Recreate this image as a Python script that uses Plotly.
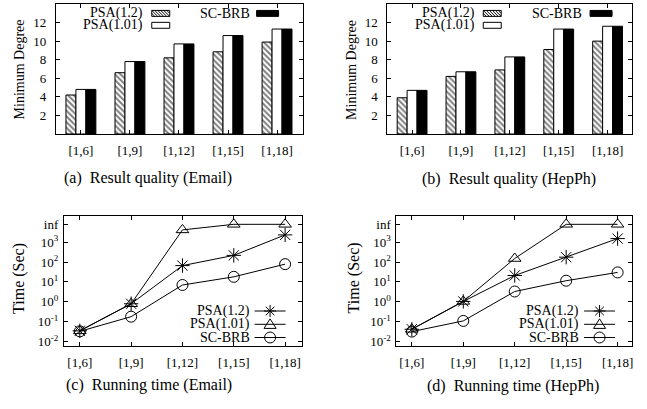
import plotly.graph_objects as go

W, H = 647, 409
FONT = "Liberation Serif, Times New Roman, Times, serif"

# ---------------- data ----------------
categories = ["[1,6]", "[1,9]", "[1,12]", "[1,15]", "[1,18]"]

email_deg_psa12 = [4.2, 6.6, 8.2, 8.85, 9.9]
email_deg_psa101 = [4.8, 7.8, 9.7, 10.6, 11.3]
email_deg_scbrb = [4.8, 7.8, 9.7, 10.6, 11.3]

hep_deg_psa12 = [3.9, 6.2, 6.9, 9.1, 10.0]
hep_deg_psa101 = [4.7, 6.7, 8.3, 11.3, 11.6]
hep_deg_scbrb = [4.7, 6.7, 8.3, 11.3, 11.6]

INF = 7800  # value used to draw "inf"
email_time_psa12 = [0.035, 0.8, 66, 215, 2300]
email_time_psa101 = [0.035, 0.8, 4100, INF, INF]
email_time_scbrb = [0.033, 0.18, 7, 18, 78]

hep_time_psa12 = [0.042, 1.05, 21, 175, 1500]
hep_time_psa101 = [0.042, 1.05, 150, INF, INF]
hep_time_scbrb = [0.032, 0.11, 3.3, 11.5, 30]

deg_ticks = [2, 4, 6, 8, 10, 12]
time_tickvals = [0.01, 0.1, 1, 10, 100, 1000, INF]
time_ticktext = ["10<sup>-2</sup>", "10<sup>-1</sup>", "10<sup>0</sup>", "10<sup>1</sup>",
                 "10<sup>2</sup>", "10<sup>3</sup>", "inf"]

series_names = ["PSA(1.2)", "PSA(1.01)", "SC-BRB"]
captions = ["(a)&nbsp; Result quality (Email)", "(b)&nbsp; Result quality (HepPh)",
            "(c)&nbsp; Running time (Email)", "(d)&nbsp; Running time (HepPh)"]


def px(x):
    return x / W


def py(y):
    return 1 - y / H


fig = go.Figure()

HATCH = dict(shape="\\", fgcolor="black", bgcolor="white", size=4, solidity=0.5)


def bar_styles():
    return [
        dict(color="white", line=dict(color="black", width=1), pattern=HATCH),
        dict(color="white", line=dict(color="black", width=1)),
        dict(color="black", line=dict(color="black", width=1)),
    ]


for (xa, ya, vals) in [("x", "y", [email_deg_psa12, email_deg_psa101, email_deg_scbrb]),
                       ("x2", "y2", [hep_deg_psa12, hep_deg_psa101, hep_deg_scbrb])]:
    for name, v, st in zip(series_names, vals, bar_styles()):
        fig.add_trace(go.Bar(x=categories, y=v, name=name, marker=st, xaxis=xa, yaxis=ya,
                             showlegend=False))

line_markers = [
    dict(symbol="asterisk-open", size=12, color="black", line=dict(color="black", width=1)),
    dict(symbol="triangle-up-open", size=11, color="black", line=dict(color="black", width=1)),
    dict(symbol="circle-open", size=11, color="black", line=dict(color="black", width=1)),
]
for (xa, ya, vals) in [("x3", "y3", [email_time_psa12, email_time_psa101, email_time_scbrb]),
                       ("x4", "y4", [hep_time_psa12, hep_time_psa101, hep_time_scbrb])]:
    for name, v, mk in zip(series_names, vals, line_markers):
        fig.add_trace(go.Scatter(x=categories, y=v, name=name, mode="lines+markers",
                                 line=dict(color="black", width=1), marker=mk,
                                 xaxis=xa, yaxis=ya, showlegend=False))

tickfont = dict(family=FONT, size=13, color="black")
common = dict(showline=True, linecolor="black", linewidth=1, mirror="ticks", ticks="inside",
              ticklen=4, tickcolor="black", showgrid=False, zeroline=False, tickfont=tickfont)

# panel frames in pixels: (left, right, top, bottom)
frames = {
    1: (56, 303, 4, 135),
    2: (388, 633, 4, 135),
    3: (64, 302, 218, 349),
    4: (397, 633, 218, 349),
}
xranges = {1: [-0.51, 4.52], 2: [-0.505, 4.5], 3: [-0.31, 4.32], 4: [-0.3, 4.28]}

layout = dict(width=W, height=H, margin=dict(l=0, r=0, t=0, b=0), plot_bgcolor="white",
              paper_bgcolor="white", barmode="group", bargap=0.39, bargroupgap=0,
              showlegend=False)

for i in range(1, 5):
    l, r, t, b = frames[i]
    xk = "xaxis" if i == 1 else f"xaxis{i}"
    yk = "yaxis" if i == 1 else f"yaxis{i}"
    xs = "y" if i == 1 else f"y{i}"
    ys = "x" if i == 1 else f"x{i}"
    layout[xk] = dict(common, domain=[px(l), px(r)], anchor=xs, range=xranges[i],
                      type="category", ticklabelstandoff=4)
    if i <= 2:
        layout[yk] = dict(common, domain=[py(b), py(t)], anchor=ys, range=[0, 14],
                          tickvals=deg_ticks, ticklabelstandoff=6)
    else:
        layout[yk] = dict(common, domain=[py(b), py(t)], anchor=ys, type="log",
                          range=[-2.24, 4.29], tickvals=time_tickvals, ticktext=time_ticktext,
                          ticklabelstandoff=2)

fig.update_layout(**layout)

shapes = []
annotations = []


def text(x, y, s, size=14, xanchor="center", angle=0):
    annotations.append(dict(x=px(x), y=py(y), xref="paper", yref="paper", text=s,
                            showarrow=False, xanchor=xanchor, yanchor="middle",
                            textangle=angle, font=dict(family=FONT, size=size, color="black")))


def rect(x0, y0, x1, y1, fill):
    shapes.append(dict(type="rect", xref="paper", yref="paper", x0=px(x0), x1=px(x1),
                       y0=py(y1), y1=py(y0), line=dict(color="black", width=1),
                       fillcolor=fill))


def hatch_rect(x0, y0, x1, y1, step=3.0):
    rect(x0, y0, x1, y1, "white")
    parts = []
    c = (y0 - x1)
    while c <= (y1 - x0):
        xa = max(x0, y0 - c)
        xb = min(x1, y1 - c)
        if xb > xa:
            parts.append(f"M{px(xa)},{py(xa + c)} L{px(xb)},{py(xb + c)}")
        c += step
    shapes.append(dict(type="path", xref="paper", yref="paper", path=" ".join(parts),
                       line=dict(color="black", width=1)))


def hline(x0, x1, y):
    shapes.append(dict(type="line", xref="paper", yref="paper", x0=px(x0), x1=px(x1),
                       y0=py(y), y1=py(y), line=dict(color="black", width=1)))


def asterisk(cx, cy, r=6):
    d = r * 0.72
    p = (f"M{px(cx)},{py(cy - r)} L{px(cx)},{py(cy + r)} "
         f"M{px(cx - r)},{py(cy)} L{px(cx + r)},{py(cy)} "
         f"M{px(cx - d)},{py(cy - d)} L{px(cx + d)},{py(cy + d)} "
         f"M{px(cx - d)},{py(cy + d)} L{px(cx + d)},{py(cy - d)}")
    shapes.append(dict(type="path", xref="paper", yref="paper", path=p,
                       line=dict(color="black", width=1)))


def triangle(cx, cy, r=5.5):
    p = (f"M{px(cx)},{py(cy - r)} L{px(cx + r * 1.1)},{py(cy + r * 0.75)} "
         f"L{px(cx - r * 1.1)},{py(cy + r * 0.75)} Z")
    shapes.append(dict(type="path", xref="paper", yref="paper", path=p,
                       line=dict(color="black", width=1), fillcolor="rgba(0,0,0,0)"))


def circle(cx, cy, r=5.5):
    shapes.append(dict(type="circle", xref="paper", yref="paper", x0=px(cx - r),
                       x1=px(cx + r), y0=py(cy + r), y1=py(cy - r),
                       line=dict(color="black", width=1), fillcolor="rgba(0,0,0,0)"))


# bar-chart keys
for (t1, s1, t2, s2) in [(145, 152, 252, 257), (478, 484, 585, 591)]:
    text(t1, 13.3, series_names[0], xanchor="right")
    hatch_rect(s1, 10.5, s1 + 18, 16.5)
    text(t1, 25.5, series_names[1], xanchor="right")
    rect(s1, 22.5, s1 + 18, 28.5, "white")
    text(t2, 13.3, series_names[2], xanchor="right")
    rect(s2, 10.5, s2 + 22, 16.5, "black")

# line-chart keys
for (tx, lx0) in [(252, 255), (582, 585)]:
    lx1 = lx0 + 31
    mx = (lx0 + lx1) / 2
    rows = [313.3, 326.7, 340]
    text(tx, rows[0], series_names[0], xanchor="right")
    hline(lx0, lx1, rows[0])
    asterisk(mx, rows[0])
    text(tx, rows[1], series_names[1], xanchor="right")
    hline(lx0, lx1, rows[1])
    triangle(mx, rows[1])
    text(tx, rows[2], series_names[2], xanchor="right")
    hline(lx0, lx1, rows[2])
    circle(mx, rows[2])

# axis titles
text(20, 70, "Minimum Degree", size=14, angle=-90)
text(352, 70, "Minimum Degree", size=14, angle=-90)
text(19, 280, "Time (Sec)", size=16, angle=-90)
text(354, 280, "Time (Sec)", size=16, angle=-90)

# captions
text(148, 179, captions[0], size=16)
text(510, 180, captions[1], size=16)
text(149, 388, captions[2], size=16)
text(514, 389, captions[3], size=16)

fig.update_layout(shapes=shapes, annotations=annotations)
fig.write_html("out.html",
               config={"displayModeBar": False, "staticPlot": True},
               post_script="document.body.style.margin='0';document.body.style.overflow='hidden';")
